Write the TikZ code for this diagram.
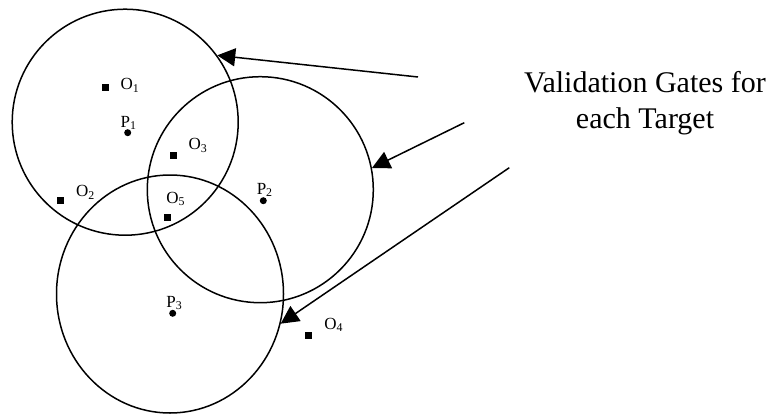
\documentclass[tikz,border=0pt]{standalone}
\usepackage{fontspec}
\setmainfont{Liberation Serif}
\usetikzlibrary{arrows.meta,shapes.geometric}
\begin{document}
\begin{tikzpicture}[x=1pt,y=-1pt,
  gate/.style={draw, circle, line width=1.5pt, minimum size=226pt, inner sep=0pt},
  obs/.style={fill=black, rectangle, minimum size=7pt, inner sep=0pt},
  pred/.style={fill=black, circle, minimum size=7pt, inner sep=0pt},
  lbl/.style={inner sep=0pt, font=\fontsize{17}{20}\selectfont},
  pointer/.style={line width=1.5pt, -{Triangle[length=18pt,width=18pt]}}]
\useasboundingbox (0,0) rectangle (773,415);
% gates
\node[gate] (c1) at (125.2,122.2) {};
\node[gate] (c2) at (260.3,189.7) {};
\node[gate, ellipse, minimum width=227pt, minimum height=238pt] (c3) at (170,294) {};
% observations
\node[obs] (o1) at (105.3,87.3) {};
\node[obs] (o2) at (60,200) {};
\node[obs] (o3) at (173,155) {};
\node[obs] (o4) at (308.3,335.7) {};
\node[obs] (o5) at (167.3,217.3) {};
% predictions
\node[pred] (p1) at (127.7,132.7) {};
\node[pred] (p2) at (263.3,200.7) {};
\node[pred] (p3) at (172.7,313.3) {};
% labels
\node[lbl] (lo1) at (130,85.5) {O\textsubscript{1}};
\node[lbl] (lo2) at (85.5,192.5) {O\textsubscript{2}};
\node[lbl] (lo3) at (198,145.5) {O\textsubscript{3}};
\node[lbl] (lo4) at (333.7,325) {O\textsubscript{4}};
\node[lbl] (lo5) at (175.7,199) {O\textsubscript{5}};
\node[lbl] (lp1) at (128.7,123) {P\textsubscript{1}};
\node[lbl] (lp2) at (264.7,190) {P\textsubscript{2}};
\node[lbl] (lp3) at (174.3,303) {P\textsubscript{3}};
% title
\node[align=center, inner sep=0pt, font=\fontsize{30}{36}\selectfont] (title) at (645,103) {Validation Gates for\\each Target};
% pointers
\coordinate (s1) at (418,77);
\coordinate (s2) at (464.3,122.7);
\coordinate (s3) at (509.3,167.7);
\draw[pointer] (s1) -- (c1.36);
\draw[pointer] (s2) -- (c2.11);
\draw[pointer] (s3) -- (c3.345);
\end{tikzpicture}
\end{document}
